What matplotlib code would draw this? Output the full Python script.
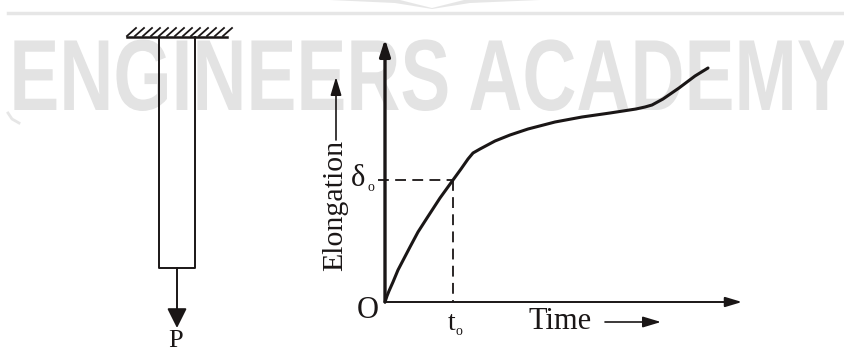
import matplotlib
matplotlib.use("Agg")
import matplotlib.pyplot as plt
from matplotlib.patheffects import AbstractPathEffect
from matplotlib.transforms import Affine2D

W, H = 845, 350
INK = "#1a1616"
WM = "#e3e3e3"
SERIF = ["Liberation Serif", "DejaVu Serif"]

# curve, pixels from the origin O
time_vals = [0, 2, 4, 8, 13, 25, 33, 42, 55, 68, 76, 83, 88, 95, 110, 125, 143, 170, 197, 225,
             251, 260, 267, 278, 294, 310, 323]
elong_vals = [0, 6, 11, 20, 32, 55, 70, 84, 104, 122, 133, 143, 149, 153, 161, 167, 173, 180, 185, 189,
              193, 195, 197, 203, 214, 226, 234]
t0, d0 = 68, 122


class TallText(AbstractPathEffect):
    """Stretch a text upward about its baseline, the watermark is a narrow face."""

    def __init__(self, sy, base):
        super().__init__()
        self.sy, self.base = sy, base

    def draw_path(self, renderer, gc, tpath, affine, rgbFace=None):
        tall = affine + Affine2D().translate(0, -self.base).scale(1, self.sy).translate(0, self.base)
        renderer.draw_path(gc, tpath, tall, rgbFace)


def arrow(x0, y0, x1, y1, lw, ms, hl, hw):
    ax.annotate("", xy=(x1, y1), xytext=(x0, y0),
                arrowprops=dict(arrowstyle=f"-|>,head_length={hl},head_width={hw}", color=INK, lw=lw,
                                shrinkA=0, shrinkB=0, mutation_scale=ms))


fig = plt.figure(figsize=(W / 100, H / 100), dpi=100)
ax = fig.add_axes([0, 0, 1, 1])
ax.set_xlim(0, W)
ax.set_ylim(H, 0)
ax.axis("off")

# watermark
ax.plot([8, 845], [13, 13], color="#e6e6e6", lw=2.5, zorder=0)
ax.fill([330, 400, 432, 464, 540, 470, 432, 395], [0, 0, 8, 0, 0, 3, 9, 3], color="#e6e6e6", lw=0, zorder=0)
ax.plot([8, 12, 19], [113, 119, 123], color="#e6e6e6", lw=2, zorder=0)
ax.text(428, 110, "ENGINEERS ACADEMY", family=["Liberation Sans", "DejaVu Sans"], weight="bold",
        fontsize=53.9, color=WM, ha="center", va="baseline", zorder=0,
        path_effects=[TallText(1.35, H - 110)])

# bar with fixed support
ax.plot([127, 227], [37, 37], color=INK, lw=1.8)
for x in range(127, 226, 8):
    ax.plot([x, x + 9], [36, 28], color=INK, lw=1.3)
ax.plot([159, 159, 195, 195], [37, 268, 268, 37], color=INK, lw=1.4)
arrow(177, 268, 177, 328, 1.4, 12, 1.0, 0.5)
ax.text(176, 347, "P", family=SERIF, fontsize=19, color=INK, ha="center", va="baseline")

# graph
ox, oy = 385, 302
xs = [ox + t for t in time_vals]
ys = [oy - e for e in elong_vals]
ax.plot(xs, ys, color=INK, lw=2.2, solid_capstyle="round", solid_joinstyle="round")
ax.plot([ox - 7, ox + t0], [oy - d0, oy - d0], color=INK, lw=1.3, dashes=(6, 3.5))
ax.plot([ox + t0, ox + t0], [oy - d0, oy], color=INK, lw=1.3, dashes=(6, 3.5))
arrow(ox, oy, ox, 39, 2.4, 10, 1.0, 0.32)
arrow(ox, oy, 742, oy, 1.4, 10, 1.0, 0.3)
arrow(336, 140, 336, 77, 1.2, 11, 1.0, 0.3)
arrow(605, 322, 661, 322, 1.2, 11, 1.0, 0.3)

ax.text(335, 271, "Elongation", family=SERIF, fontsize=21.5, color=INK, rotation=90,
        ha="center", va="bottom", rotation_mode="default")
ax.text(368, 318, "O", family=SERIF, fontsize=22, color=INK, ha="center", va="baseline")
ax.text(529, 329, "Time", family=SERIF, fontsize=22, color=INK, ha="left", va="baseline")
ax.text(358, 186, "δ", family=SERIF, fontsize=22, color=INK, ha="center", va="baseline")
ax.text(371, 191, "o", family=SERIF, fontsize=10, color=INK, ha="center", va="baseline")
ax.text(452, 330, "t", family=SERIF, fontsize=20, color=INK, ha="center", va="baseline")
ax.text(459, 335, "o", family=SERIF, fontsize=10, color=INK, ha="center", va="baseline")

fig.savefig("out.png", dpi=100)
